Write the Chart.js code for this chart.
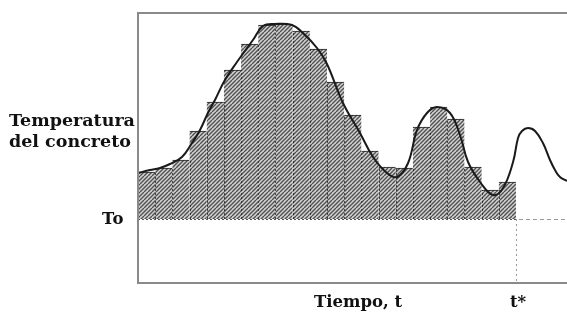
<!DOCTYPE html>
<html>
<head>
<meta charset="utf-8">
<script src="https://cdn.jsdelivr.net/npm/chart.js@4.4.1/dist/chart.umd.min.js"></script>
<style>
  body { margin: 0; background: #fff; }
  #wrap { position: relative; width: 567px; height: 312px; }
  .lbl { position: absolute; font-family: 'DejaVu Serif', serif; font-weight: bold; font-size: 16.5px; color: #111; white-space: nowrap; line-height: 1; }
  .big { font-size: 17.5px; }
</style>
</head>
<body>
<div id="wrap">
  <canvas id="c" width="567" height="312"></canvas>
  <div class="lbl big" style="left:9px; top:112px;">Temperatura</div>
  <div class="lbl big" style="left:9px; top:133px;">del concreto</div>
  <div class="lbl" style="left:102px; top:211px;">To</div>
  <div class="lbl" style="left:314px; top:294px;">Tiempo, t</div>
  <div class="lbl" style="left:510px; top:294px;">t*</div>
</div>
<script>
// ============================================================
// 混凝土温度 - 时间 曲线 (柱状近似)
// ============================================================

// 柱子: 每个时间步的温度 (相对 To)
const barSteps = [0, 1, 2, 3, 4, 5, 6, 7, 8, 9, 10, 11, 12, 13, 14, 15, 16, 17, 18, 19, 20, 21];
const barTemps = [47, 51, 59, 88, 117, 149, 175, 194, 195, 188, 170, 137, 104, 68, 52, 51, 92, 112, 100, 52, 29, 37];

// 实测曲线
const curveTimes = [0.00, 0.70, 1.28, 1.86, 2.56, 3.14, 3.61, 4.07, 4.48, 5.06, 5.76, 6.69, 7.28, 7.97, 8.96,
  9.60, 10.42, 11.00, 11.93, 12.92, 13.68, 14.49, 15.08, 15.72, 16.24, 16.82, 17.40, 18.16, 18.74, 19.21,
  19.91, 20.66, 21.25, 21.83, 22.12, 22.35, 22.70, 23.11, 23.57, 23.98, 24.27, 24.56, 24.97];
const curveTemps = [46, 49, 51, 55, 62, 76, 89, 106, 119, 139, 157, 179, 193, 195, 194,
  186, 171, 155, 116, 86, 62, 46, 42, 56, 89, 106, 112, 106, 84, 57,
  37, 24, 31, 57, 81, 88, 91, 88, 76, 59, 49, 42, 38];

const tStar = 22;
const T0 = 0;

// 斜线填充
function hatch() {
  const p = document.createElement('canvas');
  p.width = 8; p.height = 8;
  const g = p.getContext('2d');
  g.fillStyle = '#d2d2d2';
  g.fillRect(0, 0, 8, 8);
  g.strokeStyle = '#505050';
  g.lineWidth = 1.4;
  g.beginPath();
  for (let k = -8; k <= 16; k += 4) {
    g.moveTo(k, 8);
    g.lineTo(k + 8, 0);
  }
  g.stroke();
  return g.createPattern(p, 'repeat');
}

const ctx = document.getElementById('c').getContext('2d');

const decor = {
  id: 'decor',
  afterDatasetsDraw(chart) {
    const { ctx, chartArea: a, scales: { x, y } } = chart;
    const yT0 = y.getPixelForValue(T0);
    const xS = x.getPixelForValue(tStar);
    ctx.save();
    // 柱子之间的虚线
    const bars = chart.getDatasetMeta(1).data;
    ctx.strokeStyle = 'rgba(30,30,30,0.75)';
    ctx.lineWidth = 1;
    ctx.setLineDash([2, 2]);
    bars.forEach((b, i) => {
      if (i === 0) return;
      const left = Math.round(b.x - b.width / 2) + 0.5;
      ctx.beginPath();
      ctx.moveTo(left, yT0);
      ctx.lineTo(left, Math.max(b.y, bars[i - 1].y));
      ctx.stroke();
    });
    // To 线
    ctx.beginPath();
    ctx.moveTo(a.left, yT0 + 0.5);
    ctx.lineTo(xS, yT0 + 0.5);
    ctx.stroke();
    ctx.strokeStyle = '#999';
    ctx.setLineDash([4, 3]);
    ctx.beginPath();
    ctx.moveTo(xS + 3, yT0 + 0.5);
    ctx.lineTo(a.right, yT0 + 0.5);
    ctx.stroke();
    ctx.setLineDash([2, 3]);
    ctx.beginPath();
    ctx.moveTo(xS + 0.5, yT0);
    ctx.lineTo(xS + 0.5, a.bottom);
    ctx.stroke();
    // 边框
    ctx.setLineDash([]);
    ctx.strokeStyle = '#8a8a8a';
    ctx.lineWidth = 2;
    ctx.beginPath();
    ctx.moveTo(a.right, a.top);
    ctx.lineTo(a.left, a.top);
    ctx.lineTo(a.left, a.bottom);
    ctx.lineTo(a.right, a.bottom);
    ctx.stroke();
    ctx.restore();
  }
};

new Chart(ctx, {
  data: {
    datasets: [{
      type: 'line',
      data: curveTimes.map((t, i) => ({ x: t, y: curveTemps[i] })),
      borderColor: '#1a1a1a',
      borderWidth: 2,
      pointRadius: 0,
      tension: 0.4,
      fill: false,
      order: 0
    }, {
      type: 'bar',
      data: barSteps.map((s, i) => ({ x: s + 0.5, y: barTemps[i] })),
      backgroundColor: hatch(),
      borderColor: '#222',
      borderWidth: { top: 1, left: 0, right: 0, bottom: 0 },
      barPercentage: 1,
      categoryPercentage: 1,
      order: 1
    }]
  },
  options: {
    responsive: false,
    animation: false,
    layout: { padding: { left: 138, top: 13, right: 0, bottom: 29 } },
    scales: {
      x: { type: 'linear', display: false, offset: false, min: 0, max: 24.97, ticks: { stepSize: 1 } },
      y: { display: false, min: -64, max: 206 }
    },
    plugins: { legend: { display: false }, tooltip: { enabled: false } }
  },
  plugins: [decor]
});
</script>
</body>
</html>
